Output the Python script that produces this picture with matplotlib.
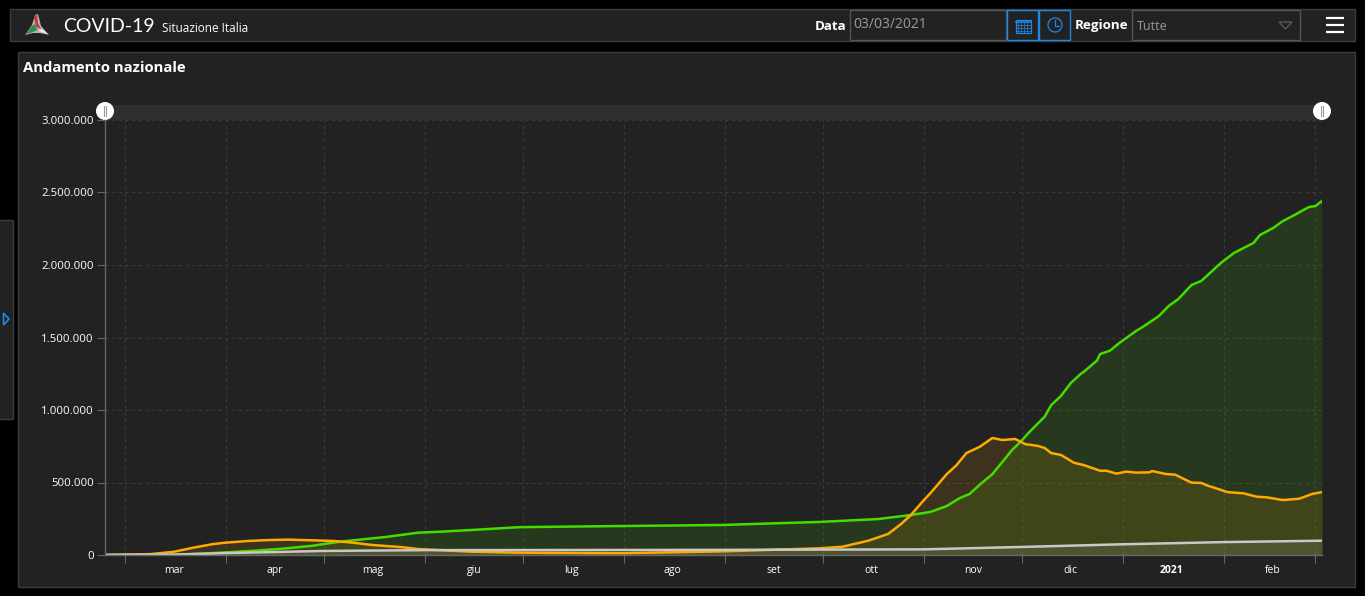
import pandas as pd
import matplotlib
matplotlib.use("Agg")
import matplotlib.pyplot as plt
import matplotlib.dates as mdates
from matplotlib.patches import Rectangle, Circle, Polygon

plt.rcParams['font.family'] = ['Open Sans', 'DejaVu Sans']

# Dati
green_dates = ["2020-02-24", "2020-03-09", "2020-03-16", "2020-03-24", "2020-04-02", "2020-04-10", "2020-04-17",
               "2020-04-27", "2020-05-06", "2020-05-20", "2020-05-30", "2020-06-06", "2020-06-15", "2020-06-30",
               "2020-08-01", "2020-08-31", "2020-09-30", "2020-10-18", "2020-10-28", "2020-11-03", "2020-11-08",
               "2020-11-12", "2020-11-15", "2020-11-18", "2020-11-22", "2020-11-28", "2020-12-01", "2020-12-03",
               "2020-12-08", "2020-12-10", "2020-12-13", "2020-12-16", "2020-12-19", "2020-12-20", "2020-12-24",
               "2020-12-25", "2020-12-28", "2020-12-31", "2021-01-05", "2021-01-07", "2021-01-12", "2021-01-15",
               "2021-01-18", "2021-01-22", "2021-01-25", "2021-01-31", "2021-02-04", "2021-02-10", "2021-02-12",
               "2021-02-16", "2021-02-19", "2021-02-22", "2021-02-27", "2021-03-01", "2021-03-03"]
green_values = [0, 700, 2700, 9000, 19000, 30000, 41000, 62000, 92000, 124000, 154000, 161000, 172000, 192000,
                200000, 207000, 228000, 248000, 276000, 297000, 338000, 393000, 421000, 483000, 558000, 724000,
                790000, 841000, 954000, 1034000, 1097000, 1186000, 1248000, 1264000, 1340000, 1386000, 1409000,
                1464000, 1545000, 1572000, 1648000, 1717000, 1766000, 1862000, 1890000, 2014000, 2083000, 2152000,
                2207000, 2255000, 2303000, 2338000, 2400000, 2407000, 2441000]

orange_dates = ["2020-02-24", "2020-03-09", "2020-03-16", "2020-03-22", "2020-03-28", "2020-04-01", "2020-04-08",
                "2020-04-14", "2020-04-20", "2020-05-04", "2020-05-10", "2020-05-16", "2020-05-25", "2020-05-30",
                "2020-06-15", "2020-06-30", "2020-07-31", "2020-08-31", "2020-09-30", "2020-10-07", "2020-10-15",
                "2020-10-21", "2020-10-25", "2020-10-28", "2020-11-01", "2020-11-03", "2020-11-08", "2020-11-11",
                "2020-11-14", "2020-11-18", "2020-11-22", "2020-11-25", "2020-11-29", "2020-12-02", "2020-12-06",
                "2020-12-08", "2020-12-10", "2020-12-13", "2020-12-17", "2020-12-20", "2020-12-25", "2020-12-27",
                "2020-12-30", "2021-01-02", "2021-01-05", "2021-01-09", "2021-01-10", "2021-01-14", "2021-01-17",
                "2021-01-22", "2021-01-25", "2021-01-27", "2021-01-29", "2021-02-02", "2021-02-07", "2021-02-11",
                "2021-02-14", "2021-02-19", "2021-02-24", "2021-02-28", "2021-03-03"]
orange_values = [200, 6000, 22000, 50000, 75000, 85000, 97000, 103000, 106000, 97000, 85000, 69000, 54000, 41000,
                 23000, 16000, 12000, 25000, 46000, 57000, 99000, 145000, 214000, 276000, 379000, 427000, 558000,
                 620000, 703000, 745000, 807000, 793000, 800000, 765000, 752000, 738000, 703000, 690000, 636000,
                 620000, 581000, 581000, 561000, 575000, 568000, 570000, 579000, 559000, 554000, 499000, 497000,
                 478000, 464000, 434000, 425000, 402000, 398000, 379000, 388000, 421000, 434000]

white_dates = ["2020-02-24", "2020-03-16", "2020-04-01", "2020-05-01", "2020-06-01", "2020-09-01", "2020-11-01",
               "2020-12-01", "2021-01-01", "2021-02-01", "2021-03-03"]
white_values = [0, 2000, 13000, 28000, 33500, 35500, 39000, 55500, 74000, 89000, 98600]

month_labels = ["mar", "apr", "mag", "giu", "lug", "ago", "set", "ott", "nov", "dic", "2021", "feb"]
y_ticks = [0, 500000, 1000000, 1500000, 2000000, 2500000, 3000000]

BG = "#222222"
BORDER = "#3c3c3c"
GRID = "#3a3a3a"
BLUE = "#1e88e5"

W, H = 1365, 596
fig = plt.figure(figsize=(W / 100, H / 100), dpi=100, facecolor="black")

# Interfaccia in coordinate pixel
ui = fig.add_axes([0, 0, 1, 1])
ui.set_xlim(0, W)
ui.set_ylim(H, 0)
ui.axis("off")


def box(x0, y0, x1, y1, face=BG, edge=BORDER, lw=1.0):
    ui.add_patch(Rectangle((x0 - 1, y0 - 1), x1 - x0, y1 - y0, facecolor=face, edgecolor=edge, linewidth=lw))


box(10.5, 9.5, 1356, 41.5)
box(18.5, 52.5, 1356, 587.5)
box(-2, 220.5, 13.5, 419.5)
ui.add_patch(Polygon([(3.5, 313), (9, 319), (3.5, 325)], closed=True, facecolor="none", edgecolor=BLUE, linewidth=1.2))

# Logo
ui.add_patch(Polygon([(35, 15), (38, 14), (41, 26), (49, 35), (40, 33), (33, 33), (25, 35), (32, 25)], facecolor="#b5b5b5"))
ui.add_patch(Polygon([(34, 17), (37, 14), (38, 23), (41, 29), (36, 27), (35, 22)], facecolor="#cc3344"))
ui.add_patch(Polygon([(26, 34), (32, 26), (35, 24), (36, 28), (38, 30), (33, 32)], facecolor="#2f8f4a"))
ui.add_patch(Polygon([(38, 30), (42, 29), (48, 34), (41, 32)], facecolor="#ececec"))

ui.text(63, 26, "COVID-19", color="white", fontsize=14, va="center", ha="left", family=['Lato', 'DejaVu Sans'])
ui.text(162, 28, "Situazione Italia", color="white", fontsize=8.5, va="center", ha="left")
ui.text(23, 68, "Andamento nazionale", color="white", fontsize=10.7, fontweight="bold", va="center", ha="left")

ui.text(846, 26, "Data", color="white", fontsize=9.6, fontweight="bold", va="center", ha="right")
box(850.5, 10.5, 1007, 40.5, edge="#555555")
ui.text(853, 24, "03/03/2021", color="#9a9a9a", fontsize=10, va="center", ha="left")
box(1007.5, 10.5, 1039, 40.5, edge=BLUE)
box(1039.5, 10.5, 1071, 40.5, edge=BLUE)

# Icona calendario
ui.add_patch(Rectangle((1015.5, 19.5), 15, 13, facecolor="none", edgecolor=BLUE, linewidth=0.9))
ui.plot([1015.5, 1030.5], [22, 22], color=BLUE, lw=1.2)
for gx in range(1018, 1030, 3):
    ui.plot([gx, gx], [22, 32], color=BLUE, lw=0.5)
for gy in range(25, 32, 3):
    ui.plot([1015.5, 1030.5], [gy, gy], color=BLUE, lw=0.5)

# Icona orologio
ui.add_patch(Circle((1055, 25), 7, facecolor="none", edgecolor=BLUE, linewidth=0.9))
ui.plot([1055, 1055, 1059], [20, 26, 26], color=BLUE, lw=0.9)

ui.text(1128, 26, "Regione", color="white", fontsize=9.6, fontweight="bold", va="center", ha="right")
box(1132.5, 10.5, 1301, 40.5, edge="#555555")
ui.text(1137, 26, "Tutte", color="#9a9a9a", fontsize=9, va="center", ha="left")
ui.add_patch(Polygon([(1279, 22), (1292, 22), (1285.5, 29)], facecolor="none", edgecolor="#5c5c5c", linewidth=0.9))

for hy in [18, 25, 32]:
    ui.plot([1326, 1344], [hy, hy], color="white", lw=1.6, solid_capstyle="butt")

# Barra dello zoom
ui.add_patch(Rectangle((105, 105), 1217, 15, facecolor="#2f2f2f", edgecolor="none"))
for hx in [105, 1322]:
    ui.add_patch(Circle((hx, 111), 9, facecolor="white", edgecolor="none", zorder=5))
    ui.plot([hx - 1.3, hx - 1.3], [106, 116], color="#9a9a9a", lw=0.8, zorder=6)
    ui.plot([hx + 1.3, hx + 1.3], [106, 116], color="#9a9a9a", lw=0.8, zorder=6)

# Grafico
ax = fig.add_axes([105 / W, (H - 555) / H, 1217 / W, 435 / H])
ax.patch.set_alpha(0)

series = [
    (green_dates, green_values, "#44dd00"),
    (orange_dates, orange_values, "#ffaa00"),
    (white_dates, white_values, "#c8c8c8"),
]
for dates, values, color in series:
    ax.fill_between(pd.to_datetime(dates), 0, values, color=color, alpha=0.12, linewidth=0)
for dates, values, color in series:
    ax.plot(pd.to_datetime(dates), values, color=color, lw=1.8, solid_joinstyle="round")

ax.set_xlim(pd.Timestamp("2020-02-24"), pd.Timestamp("2021-03-03"))
ax.set_ylim(0, 3000000)

ax.set_yticks(y_ticks)
ax.set_yticklabels([f"{v:,}".replace(",", ".") for v in y_ticks])
ax.xaxis.set_major_locator(mdates.MonthLocator())
ax.xaxis.set_major_formatter(plt.NullFormatter())

ax.grid(True, which="major", color=GRID, linestyle=(0, (3, 3)), linewidth=0.8)
ax.set_axisbelow(True)
ax.tick_params(axis="y", colors="white", labelsize=8.2, length=6, width=0.8, color="#666666", pad=2)
ax.tick_params(axis="x", which="major", length=6, width=0.8, color="#666666")
ax.tick_params(axis="x", which="minor", length=0, colors="white", labelsize=7.5, pad=7)

# Etichette dei mesi a metà mese
minor_pos = pd.date_range("2020-03-01", "2021-02-01", freq="MS") + pd.Timedelta(days=15)
ax.set_xticks(minor_pos, minor=True)
ax.set_xticklabels(month_labels, minor=True)
for lab, name in zip(ax.get_xticklabels(minor=True), month_labels):
    lab.set_color("white")
    if name == "2021":
        lab.set_fontweight("bold")

for side in ["top", "right"]:
    ax.spines[side].set_visible(False)
for side in ["left", "bottom"]:
    ax.spines[side].set_color("#666666")
    ax.spines[side].set_linewidth(1)

fig.savefig("out.png", dpi=100, facecolor="black")
